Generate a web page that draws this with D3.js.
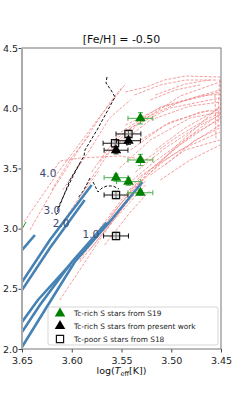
<!DOCTYPE html>
<html>
<head>
<meta charset="utf-8">
<script src="https://cdn.jsdelivr.net/npm/d3@7"></script>
<style>
  body { margin: 0; background: #fff; }
  svg { font-family: "DejaVu Sans", sans-serif; }
</style>
</head>
<body>
<svg id="chart" width="247" height="394"></svg>
<script>
// tick labels
const xTicks = [3.65, 3.60, 3.55, 3.50, 3.45];
const yTicks = [2.0, 2.5, 3.0, 3.5, 4.0, 4.5];

// evolutionary tracks, [logTeff, logL]
const pinkTracks = [
  [[3.648,3.055],[3.612,3.487],[3.572,3.927],[3.546,4.201]],
  [[3.619,3.470],[3.612,3.561],[3.592,3.586],[3.552,3.603],[3.521,3.570]],
  [[3.546,4.135],[3.525,4.176],[3.507,4.234],[3.486,4.267],[3.451,4.259],[3.452,4.151],[3.453,3.836]],
  [[3.642,2.988],[3.619,3.321],[3.592,3.669],[3.562,4.043],[3.550,4.168]],
  [[3.609,3.321],[3.582,3.653],[3.562,3.919],[3.541,4.068]],
  [[3.620,3.321],[3.602,3.570],[3.582,3.778]],
  [[3.587,3.337],[3.562,3.636],[3.531,3.885],[3.491,4.101],[3.451,4.218]],
  [[3.580,3.470],[3.552,3.794],[3.511,4.010],[3.451,4.151]],
  [[3.572,3.553],[3.541,3.836],[3.501,4.002],[3.451,4.085]],
  [[3.560,3.653],[3.521,3.902],[3.481,4.018],[3.451,4.051]],
  [[3.612,2.407],[3.572,2.905],[3.531,3.379],[3.491,3.719],[3.451,4.018]],
  [[3.572,2.972],[3.531,3.420],[3.496,3.669],[3.451,3.919]],
  [[3.562,3.113],[3.531,3.437],[3.491,3.653],[3.451,3.802]],
  [[3.541,3.321],[3.506,3.570],[3.451,3.860]],
  [[3.521,3.445],[3.486,3.653],[3.451,3.736]],
  [[3.552,3.503],[3.521,3.736],[3.481,3.919],[3.451,3.968]],
  [[3.541,3.653],[3.506,3.860],[3.471,3.968],[3.451,3.985]],
  [[3.531,3.736],[3.501,3.885],[3.461,3.985]],
  [[3.592,2.739],[3.552,3.196],[3.521,3.487],[3.471,3.836],[3.451,3.952]],
  [[3.521,4.068],[3.496,4.151],[3.471,4.193]],
  [[3.516,4.110],[3.486,4.201],[3.461,4.234]],
  [[3.456,4.110],[3.455,3.736]],
  [[3.637,2.722],[3.587,3.321],[3.572,3.487]],
  [[3.602,2.673],[3.567,3.055],[3.529,3.404]],
  [[3.592,2.722],[3.562,3.030],[3.526,3.362]],
  [[3.546,3.354],[3.516,3.561],[3.481,3.769],[3.451,3.910]],
  [[3.536,3.470],[3.506,3.669],[3.471,3.860],[3.451,3.943]],
  [[3.526,3.570],[3.496,3.752],[3.466,3.902],[3.451,3.960]],
  [[3.516,3.653],[3.486,3.836],[3.451,4.002]],
  [[3.511,3.404],[3.481,3.570],[3.451,3.694]],
  [[3.506,3.528],[3.476,3.736],[3.451,3.836]],
  [[3.557,3.736],[3.526,3.919],[3.491,4.052],[3.451,4.135]],
  [[3.546,3.860],[3.511,4.002],[3.471,4.101],[3.451,4.118]],
  [[3.567,2.864],[3.541,3.138],[3.521,3.321]],
  [[3.582,2.822],[3.552,3.138],[3.525,3.404]],
  [[3.537,4.110],[3.511,4.193],[3.486,4.234],[3.453,4.234]],
  [[3.451,4.234],[3.450,3.860]]
];

const blueTracks = [
  [[3.650,2.017],[3.627,2.324],[3.597,2.723],[3.562,3.055],[3.529,3.387]],
  [[3.650,2.141],[3.632,2.365],[3.600,2.723],[3.565,3.050]],
  [[3.650,2.224],[3.634,2.407],[3.602,2.698]],
  [[3.650,2.556],[3.622,2.905],[3.580,3.362]],
  [[3.650,2.490],[3.622,2.839],[3.587,3.238]],
  [[3.650,2.822],[3.637,2.947]]
];

const greenTrack = [[3.650,2.995],[3.646,3.055]];

const blackTracks = [
  [[3.5646,4.259],[3.5656,4.209],[3.5606,4.151],[3.5565,4.093],[3.5746,3.819],[3.5867,3.653],[3.5877,3.603],[3.6018,3.404],[3.6098,3.238],[3.6158,3.113]],
  [[3.5917,3.545],[3.5997,3.420],[3.6078,3.279],[3.6148,3.155]],
  [[3.5817,3.420],[3.5877,3.321],[3.5937,3.254]],
  [[3.5786,3.387],[3.5736,3.304],[3.5696,3.337],[3.5646,3.354],[3.5585,3.354],[3.5525,3.329]]
];

// mass labels
const massLabels = ["4.0", "3.0", "2.0", "1.0"];
const massLabelPos = [[3.6239,3.46],[3.6199,3.155],[3.6108,3.047],[3.5807,2.955]];

// stars
const s19T = [3.531, 3.531, 3.5555, 3.543, 3.531];
const s19L = [3.916, 3.570, 3.423, 3.390, 3.298];
const s19TErr = [0.0125, 0.0125, 0.012, 0.012, 0.0125];
const s19LErr = [0.047, 0.047, 0.03, 0.03, 0.02];

const presT = [3.5555, 3.543];
const presL = [3.651, 3.730];
const presTErr = [0.012, 0.012];
const presLErr = [0.03, 0.03];

const s18T = [3.543, 3.5565, 3.5555, 3.5555];
const s18L = [3.786, 3.709, 3.279, 2.939];
const s18TErr = [0.0125, 0.012, 0.012, 0.0125];
const s18LErr = [0.03, 0.03, 0.03, 0.03];

const legendLabels = ["Tc-rich S stars from S19", "Tc-rich S stars from present work", "Tc-poor S stars from S18"];

const svg = d3.select("#chart");
const margin = {left: 22, right: 26, top: 48, bottom: 45};
const width = 247, height = 394;

const x = d3.scaleLinear().domain([3.65, 3.45]).range([margin.left, width - margin.right]);
const y = d3.scaleLinear().domain([2.0, 4.5]).range([height - margin.bottom, margin.top]);

svg.append("defs").append("clipPath").attr("id", "clip")
  .append("rect")
  .attr("x", margin.left).attr("y", margin.top)
  .attr("width", x(3.45) - x(3.65)).attr("height", y(2.0) - y(4.5));

const line = d3.line().x(d => x(d[0])).y(d => y(d[1]));
const plot = svg.append("g").attr("clip-path", "url(#clip)");

plot.selectAll(".pink").data(pinkTracks).enter().append("path")
  .attr("d", line)
  .attr("fill", "none")
  .attr("stroke", "#f08080")
  .attr("stroke-width", 0.9)
  .attr("stroke-dasharray", "3,1.5")
  .attr("opacity", 0.85);

plot.selectAll(".blue").data(blueTracks).enter().append("path")
  .attr("d", line)
  .attr("fill", "none")
  .attr("stroke", "#4682b4")
  .attr("stroke-width", 2.6);

plot.append("path").attr("d", line(greenTrack))
  .attr("fill", "none").attr("stroke", "#22a022").attr("stroke-width", 1);

plot.selectAll(".black").data(blackTracks).enter().append("path")
  .attr("d", line)
  .attr("fill", "none")
  .attr("stroke", "#111")
  .attr("stroke-width", 1)
  .attr("stroke-dasharray", "3,1.8");

// mass labels
svg.selectAll(".mass").data(massLabels).enter().append("text")
  .attr("x", (d, i) => x(massLabelPos[i][0]))
  .attr("y", (d, i) => y(massLabelPos[i][1]))
  .attr("dy", "0.35em")
  .attr("text-anchor", "middle")
  .attr("font-size", 10.5)
  .attr("fill", "#3f4a72")
  .text(d => d);

// error bars
function errorBars(T, L, TErr, LErr, color) {
  const g = svg.append("g").attr("stroke", color).attr("stroke-width", 1);
  T.forEach((t, i) => {
    const cx = x(t), cy = y(L[i]);
    const x0 = x(t + TErr[i]), x1 = x(t - TErr[i]);
    const y0 = y(L[i] + LErr[i]), y1 = y(L[i] - LErr[i]);
    g.append("line").attr("x1", x0).attr("x2", x1).attr("y1", cy).attr("y2", cy);
    g.append("line").attr("x1", cx).attr("x2", cx).attr("y1", y0).attr("y2", y1);
    [x0, x1].forEach(xx => g.append("line").attr("x1", xx).attr("x2", xx).attr("y1", cy - 2.5).attr("y2", cy + 2.5));
    [y0, y1].forEach(yy => g.append("line").attr("x1", cx - 2.5).attr("x2", cx + 2.5).attr("y1", yy).attr("y2", yy));
  });
}

const tri = d3.symbol().type(d3.symbolTriangle).size(48);
const sq = d3.symbol().type(d3.symbolSquare).size(52);

errorBars(s18T, s18L, s18TErr, s18LErr, "#111");
svg.selectAll(".s18").data(s18T).enter().append("path")
  .attr("d", sq)
  .attr("transform", (d, i) => `translate(${x(d)},${y(s18L[i])})`)
  .attr("fill", "rgba(200,200,200,0.45)")
  .attr("stroke", "#111")
  .attr("stroke-width", 1.2);

errorBars(presT, presL, presTErr, presLErr, "#111");
svg.selectAll(".pres").data(presT).enter().append("path")
  .attr("d", tri)
  .attr("transform", (d, i) => `translate(${x(d)},${y(presL[i])})`)
  .attr("fill", "#000");

errorBars(s19T, s19L, s19TErr, s19LErr, "#4caf4c");
svg.selectAll(".s19").data(s19T).enter().append("path")
  .attr("d", tri)
  .attr("transform", (d, i) => `translate(${x(d)},${y(s19L[i])})`)
  .attr("fill", "#008000");

// axes
const xAxis = svg.append("g").attr("transform", `translate(0,${y(2.0)})`)
  .call(d3.axisBottom(x).tickValues(xTicks).tickFormat(d3.format(".2f")).tickSize(3.5));
const yAxis = svg.append("g").attr("transform", `translate(${x(3.65)},0)`)
  .call(d3.axisLeft(y).tickValues(yTicks).tickFormat(d3.format(".1f")).tickSize(3.5));
[xAxis, yAxis].forEach(a => {
  a.select(".domain").remove();
  a.selectAll("text").attr("font-size", 9.5).attr("fill", "#222").attr("font-family", "DejaVu Sans");
  a.selectAll("line").attr("stroke", "#444");
});
xAxis.selectAll("text").attr("dy", "0.9em");
yAxis.selectAll("text").attr("x", -4);

// frame
svg.append("rect")
  .attr("x", x(3.65)).attr("y", y(4.5))
  .attr("width", x(3.45) - x(3.65)).attr("height", y(2.0) - y(4.5))
  .attr("fill", "none").attr("stroke", "#777").attr("stroke-width", 1);
svg.append("line")
  .attr("x1", x(3.65)).attr("x2", x(3.65)).attr("y1", y(4.5)).attr("y2", y(2.0))
  .attr("stroke", "#aaa").attr("stroke-width", 2);

// title and axis label
svg.append("text").attr("x", (x(3.65) + x(3.45)) / 2).attr("y", 43)
  .attr("text-anchor", "middle").attr("font-size", 11).attr("fill", "#111")
  .text("[Fe/H] = -0.50");

const xl = svg.append("text").attr("x", (x(3.65) + x(3.45)) / 2).attr("y", 374)
  .attr("text-anchor", "middle").attr("font-size", 9.5).attr("fill", "#111");
xl.append("tspan").text("log(");
xl.append("tspan").attr("font-style", "italic").text("T");
xl.append("tspan").attr("font-size", 6.5).attr("dy", 2).text("eff");
xl.append("tspan").attr("dy", -2).text("[K])");

// legend
const lg = svg.append("g").attr("transform", "translate(48,307)");
lg.append("rect").attr("width", 170).attr("height", 38).attr("rx", 2)
  .attr("fill", "rgba(255,255,255,0.85)").attr("stroke", "#ccc").attr("stroke-width", 0.8);
const rowsY = [6.5, 19, 32];
lg.append("path").attr("d", tri).attr("transform", `translate(12,${rowsY[0]})`).attr("fill", "#008000");
lg.append("path").attr("d", tri).attr("transform", `translate(12,${rowsY[1]})`).attr("fill", "#000");
lg.append("path").attr("d", sq).attr("transform", `translate(12,${rowsY[2]})`)
  .attr("fill", "#fff").attr("stroke", "#111").attr("stroke-width", 1.2);
lg.selectAll(".lt").data(legendLabels).enter().append("text")
  .attr("x", 26).attr("y", (d, i) => rowsY[i]).attr("dy", "0.35em")
  .attr("font-size", 7.4).attr("fill", "#222")
  .text(d => d);
</script>
</body>
</html>
